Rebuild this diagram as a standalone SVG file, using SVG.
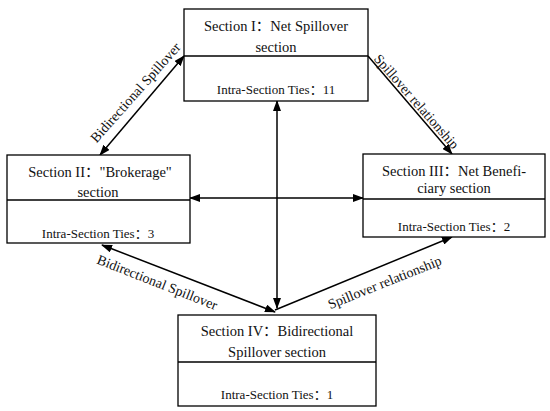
<svg xmlns="http://www.w3.org/2000/svg" width="550" height="411" viewBox="0 0 550 411">
<style>
.box{fill:#fff;stroke:#000;stroke-width:1.3}
.div{stroke:#000;stroke-width:1.6}
.t{font-family:"Liberation Serif","Noto Sans CJK SC",serif;font-size:14.5px;fill:#111;text-anchor:middle}
.s{font-family:"Liberation Serif","Noto Sans CJK SC",serif;font-size:13px;fill:#111;text-anchor:middle}
.l{font-family:"Liberation Serif","Noto Sans CJK SC",serif;font-size:14px;fill:#111;text-anchor:middle}
.c{stroke:#000;stroke-width:1.5;fill:none}
</style>
<defs>
<marker id="ah" markerWidth="11" markerHeight="8" refX="10" refY="4" orient="auto-start-reverse" markerUnits="userSpaceOnUse">
<path d="M0,0 L11,4 L0,8 Z" fill="#000"/>
</marker>
</defs>
<rect width="550" height="411" fill="#fff"/>
<g id="connectors">
<line class="c" x1="100" y1="155" x2="184" y2="56" marker-start="url(#ah)" marker-end="url(#ah)"/>
<line class="c" x1="368" y1="56" x2="452" y2="154" marker-end="url(#ah)"/>
<line class="c" x1="277" y1="101" x2="277" y2="308" marker-start="url(#ah)" marker-end="url(#ah)"/>
<line class="c" x1="190" y1="198" x2="363" y2="198" marker-start="url(#ah)" marker-end="url(#ah)"/>
<line class="c" x1="102" y1="245" x2="275" y2="312" marker-start="url(#ah)" marker-end="url(#ah)"/>
<line class="c" x1="275" y1="310" x2="452" y2="237" marker-end="url(#ah)"/>
<text class="l" transform="translate(136,93) rotate(-48.4)" y="4">Bidirectional Spillover</text>
<text class="l" transform="translate(416,102) rotate(48.8)" y="4">Spillover relationship</text>
<text class="l" transform="translate(157,283) rotate(21.5)" y="4">Bidirectional Spillover</text>
<text class="l" transform="translate(385,283) rotate(-21.8)" y="4">Spillover relationship</text>
</g>
<g id="section1">
<rect class="box" x="184" y="9" width="184" height="92"/>
<line class="div" x1="184" y1="56" x2="368" y2="56"/>
<text class="t" x="276" y="31">Section I：Net Spillover</text>
<text class="t" x="276" y="52">section</text>
<text class="s" x="276" y="94">Intra-Section Ties：11</text>
</g>
<g id="section2">
<rect class="box" x="7" y="155" width="183" height="88"/>
<line class="div" x1="7" y1="200" x2="190" y2="200"/>
<text class="t" x="100" y="177">Section II："Brokerage"</text>
<text class="t" x="98" y="197">section</text>
<text class="s" x="98" y="238">Intra-Section Ties：3</text>
</g>
<g id="section3">
<rect class="box" x="363" y="154" width="182" height="83"/>
<line class="div" x1="363" y1="199" x2="545" y2="199"/>
<text class="t" x="454" y="176">Section III：Net Benefi-</text>
<text class="t" x="454" y="193">ciary section</text>
<text class="s" x="454" y="231">Intra-Section Ties：2</text>
</g>
<g id="section4">
<rect class="box" x="178" y="315" width="198" height="91"/>
<line class="div" x1="178" y1="362" x2="376" y2="362"/>
<text class="t" x="277" y="336">Section IV：Bidirectional</text>
<text class="t" x="277" y="357">Spillover section</text>
<text class="s" x="277" y="399">Intra-Section Ties：1</text>
</g>
</svg>
